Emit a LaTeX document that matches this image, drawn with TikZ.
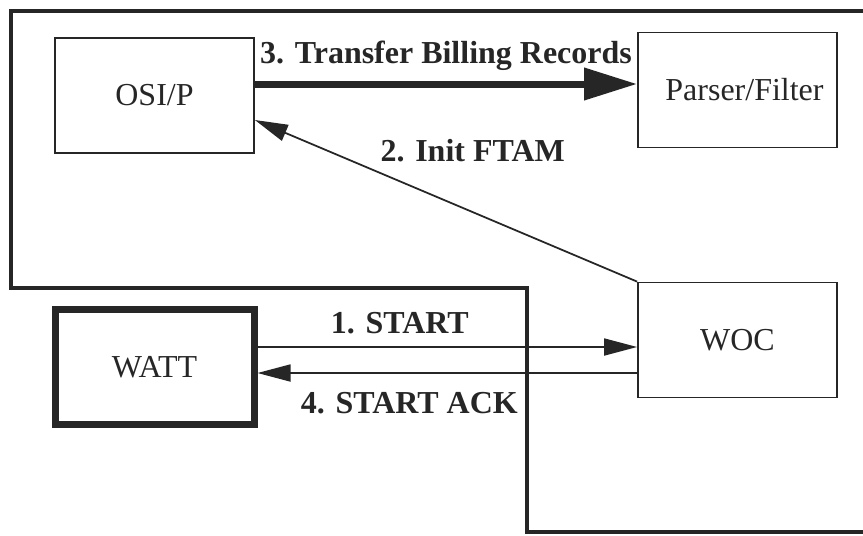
\documentclass[tikz,border=0pt]{standalone}
\usepackage{fontspec}
\setmainfont{LiberationSerif}[Extension=.ttf, UprightFont=*-Regular, BoldFont=*-Bold]
\usetikzlibrary{calc,arrows.meta}
\tikzset {>=Stealth}
\tikzset{
  unit/.style={draw, line width=1pt, minimum width=3.98cm, minimum height=2.3cm,
    inner sep=0pt, font=\fontsize{18.2}{22}\selectfont},
  msg/.style={anchor=base, font=\bfseries\fontsize{18.2}{22}\selectfont},
  thinarrow/.style={line width=1pt, -{Triangle[length=.66cm,width=.34cm]}},
  bigarrow/.style={line width=.14cm, -{Triangle[length=1.06cm,width=.62cm]}}
}

\begin{document}
\begin{tikzpicture}[color=black!85]
\useasboundingbox (0,0) rectangle (17.26,-10.7);

% the step-shaped frame, cut off by the right edge
\begin{scope}
\clip (0,0) rectangle (17.26,-10.7);
\draw[line width=.09cm]
  (17.5,-.22) --
  (.22,-.22) --
  (.22,-5.76) --
  (10.54,-5.76) --
  (10.54,-10.64) --
  (17.5,-10.64);
\end{scope}

\node[unit] (osi) at (3.09,-1.91) {OSI/P};
\node[unit] (parser) at (14.75,-1.8) {\hspace*{.28cm}Parser/Filter};
\node[unit] (woc) at (14.75,-6.8) {WOC};
\node[unit,line width=.14cm] (watt) at (3.09,-7.34) {WATT};

\coordinate (t1) at ([yshift=.23cm]osi.east);
\draw[bigarrow] (t1) -- (t1 -| parser.west)
  node[msg,midway,yshift=.42cm] {3. Transfer Billing Records};

\draw[thinarrow] (woc.north west) -- ([yshift=-.49cm]osi.east)
  node[msg,pos=.43,yshift=1.02cm] {2. Init FTAM};

\draw[thinarrow] ([yshift=.4cm]watt.east) -- ([yshift=-.14cm]woc.west)
  node[msg,pos=.375,yshift=.28cm] {1. START};
\draw[thinarrow] ([yshift=-.66cm]woc.west) -- ([yshift=-.12cm]watt.east)
  node[msg,pos=.6,yshift=-.8cm] {4. START ACK};
\end{tikzpicture}
\end{document}
